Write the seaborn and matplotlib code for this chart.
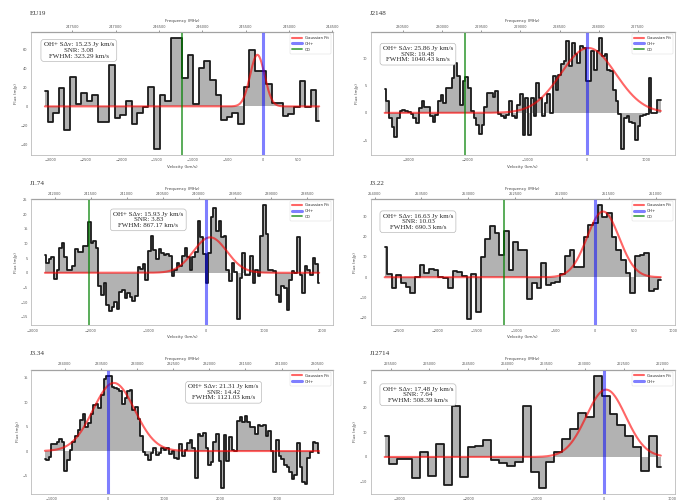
import numpy as np
import matplotlib
matplotlib.use('Agg')
import matplotlib.pyplot as plt
from matplotlib.ticker import MultipleLocator, StrMethodFormatter
import seaborn as sns

sns.set_style("white")
plt.rcParams['font.family'] = ['DejaVu Sans']

C_KMS = 299792.458

# ---- spectra (flux in mJy per channel) ----
titles = ["EU19", "J2148", "J1.74", "J3.22", "J3.34", "J12714"]

flux_1 = [16, -16, -7, 19, -25, 31, 3, 14, 6, 12, -16, -16, 43, -12, -9, 6, -18, -7, -1, 20,
          -45, 12, 6, 72, 72, 30, 54, 2, 40, 48, 28, 12, -14, -11, -7, -18, 20, 59, 37, 37,
          23, 4, 4, -10, -8, -1, 27, -1, 17, -15]
flux_2 = [4.3, 2.1, -0.9, -2.6, -4.5, -1, 0.3, 0.6, 0.4, 0.2,
          -0.3, -0.9, -1.8, 0.9, 2.1, 1, 1, -0.6, -1.6, -0.4,
          2.1, 3.2, 1.8, 4.6, 4.6, 6.4, 9.1, 6.7, 1.4, 5.8,
          6.5, 4.5, 0.3, -1, -2.3, -3.8, -2.3, 1, 3.7, 3.7,
          2.9, 4, -0.3, -0.6, -1, -0.4, 2.1, -0.6, -1, 1.4,
          3.5, -4, 2.7, -4, 2.7, -0.6, 5.5, 2.7, -0.6, 1.8,
          3.5, 0, 6.7, 4.1, 6.9, 9, 9.5, 13.1, 8.5, 12.8,
          10.7, 9.1, 12.2, 11.9, 5.8, 5.8, 11.3, 7.9, 11.4, 13.8,
          10.4, 10.7, 7.9, 7.6, 4.1, 2.1, -0.3, -6.7, -0.9, -0.6,
          -1.6, -1.8, -5, -2.4, -0.6, -0.4, -0.3, 6.3, 0, 0,
          2.4, 2.4]
flux_3 = [6, 3.2, 4.8, 5.5, -2.1, 1.1, 8.6, 10.1, 5.5, 1.1,
          1.1, 2.3, 8, 7.1, 7.1, 9, 9.2, 17.2, 10.3, 10.9,
          8.3, -4.6, -7.5, -3.4, -10.9, -13.2, -11.7, -10.1, -12.4, -6.7,
          -6, -8.6, -6.9, -8.3, -9.8, -8, 2.1, 1.4, 2.9, -2.3,
          7.5, 12.6, 7.8, 4.8, 8, 6.7, 6, 6.3, 5.7, -1.1,
          1.1, 3.4, 2.3, 5.7, 8.3, 5.5, 0.9, 5.5, 7.1, 17.8,
          12.1, 6.3, -3.4, 6.9, 19, 22, 14.4, 17.8, 12.1, 12.6,
          1.1, -2.9, 3.4, 0.2, -15.9, -1.7, 6.9, -0.6, -0.9, 5.7,
          -3.4, 1.1, -1.1, 12.6, 23.2, 13.2, 1.1, 0.9, 0.6, -7.5,
          -10.1, -4.6, -5.2, -12.6, -2.3, 0.6, 0, 12.1, -0.6, -6.9,
          2.3, 1.1, -0.9, 5.2, 2.9, -3.4]
flux_4 = [14.8, 1.6, -5.4, 1.1, -2.6, -4.9, -7.9, 0, 6.1, 2,
          3.9, 3.6, 0, -0.5, -5.4, 3.3, 2.8, 0.7, -20.7, 1.6,
          -16.9, 9.8, 18.7, 25.2, 21.6, 11, 22.5, 3.6, 17.5, 13.4,
          13.4, -10.8, -3, -5.4, 7.2, -3.8, -3, -2.1, 1.6, 10.5,
          13.4, 5.2, 5.2, 20, 25.7, 26.6, 35.6, 29.8, 31.8, 20,
          13.4, 8.5, 2.3, -7.9, 10.5, 11, 12.1, -7, -5.9, -1.3]
flux_5 = [-1.7, -1.9, -1.3, 1.4, 1.5, 1.9, 2.4, 1.9, -4, -1.9,
          0.3, 1.9, 3.1, 4.2, 6.3, 7.6, 4.9, 5.7, 7.6, 9.4,
          9.6, 8.7, 11.5, 14.6, 15.4, 15.3, 13.1, 12.8, 12.6, 12.2,
          9.7, 10.8, 12.2, 12.5, 8.3, 9, 6.6, 3.1, -0.1, -0.8,
          -1.9, -0.3, 0.7, -0.8, -0.3, 0.7, 0.3, 0.6, -0.6, 0,
          -1.5, -1.7, 1.4, -1, 0.3, 1.7, 2.2, 0.7, -5.6, 3.5,
          3.1, 3.6, 0.7, -2.8, -2.2, 1.9, 3.5, -2.1, -7.6, 3.3,
          -2.1, 2.8, 0.3, 0.1, 6.1, 6.9, 5.9, 7.2, 5.9, 4.9,
          4.9, 3.5, 5.4, 5.2, 5.4, 3.1, 4, 0, -4.3, 2.2,
          -1, -1.7, -2.8, -3.3, -4.2, -5.7, -4.9, 1.7, -3.3, -6.3,
          -6.8, -1.5, -0.1, 1.9, 1.7, -0.3]
flux_6 = [8.7, -2.9, -0.7, -0.7, -8.7, 2, -7.7, 5.1, -11.3, 20.7, -8.3, 4, 4.5, 6.7, -1.1,
          -2.4, -3.6, -2, 20.7, -6, -12.7, -2, 2, 7.3, 11.3, 18, 16, 33, 24.7, 17.3,
          13.1, 8.7, 4, -5.6, 8.3, -4]

# first / last channel velocity (km/s)
vel_range = [(-3077, 792), (-3395, 1239), (-2791, 1955), (-2671, 840), (-1127, 3753), (-3224, 829)]

# gaussian fits (amplitude mJy, centre km/s, fwhm km/s)
gauss_amp = [54, 11.9, 12.1, 32.3, 13.9, 27.3]
gauss_cen = [-80, 22, 68, 106, 100, 25]
gauss_fwhm = [240, 1080, 680, 480, 870, 680]

co_vel = [-1140, -2044, -2034, -1153, None, None]

line_flux = [15.23, 25.86, 15.93, 16.63, 21.31, 17.48]
snr = [3.08, 19.48, 3.83, 10.03, 14.42, 7.64]
fwhm_txt = [323.29, 1040.43, 867.17, 690.3, 1121.03, 508.39]

obs_freq = [245300, 228150, 239900, 251650, 233400, 262750]  # MHz
freq_step = 500  # MHz between top-axis ticks

fluxes = [flux_1, flux_2, flux_3, flux_4, flux_5, flux_6]
x_step = [500, 1000, 1000, 500, 1000, 1000]
y_step = [20, 5, 5, 10, 5, 10]
box_pos = [(0.158, 0.85), (0.155, 0.82), (0.388, 0.835), (0.155, 0.82), (0.638, 0.82), (0.155, 0.80)]

# axes rectangles (fig fraction)
rects = [(0.046, 0.6925, 0.445, 0.244), (0.547, 0.6925, 0.448, 0.244),
         (0.046, 0.355, 0.445, 0.25), (0.547, 0.355, 0.448, 0.25),
         (0.046, 0.020, 0.445, 0.246), (0.547, 0.020, 0.448, 0.246)]
title_xy = [(0.044, 0.978), (0.546, 0.978), (0.044, 0.640), (0.546, 0.640), (0.044, 0.303), (0.546, 0.303)]

fig = plt.figure(figsize=(6.78, 5.04), dpi=100)

for i in range(6):
    ax = fig.add_axes(rects[i])
    flux = np.array(fluxes[i], dtype=float)
    vel = np.linspace(vel_range[i][0], vel_range[i][1], len(flux))

    sns.lineplot(x=vel, y=flux, ax=ax, drawstyle='steps-mid', color='#1a1a1a', lw=1.3,
                 estimator=None, sort=False)
    ax.fill_between(vel, flux, 0, step='mid', color='gray', alpha=0.6, lw=0)

    vf = np.linspace(vel.min(), vel.max(), 600)
    sig = gauss_fwhm[i] / 2.3548
    ax.plot(vf, gauss_amp[i] * np.exp(-0.5 * ((vf - gauss_cen[i]) / sig) ** 2),
            color='red', alpha=0.6, lw=1.5, label='Gaussian Fit')
    ax.axvline(0, color='blue', alpha=0.5, lw=2.2, label='OH+')
    if co_vel[i] is not None:
        ax.axvline(co_vel[i], color='green', alpha=0.7, lw=1.3, label='CO')

    ax.xaxis.set_major_locator(MultipleLocator(x_step[i]))
    ax.yaxis.set_major_locator(MultipleLocator(y_step[i]))
    ax.tick_params(labelsize=2.5, length=1.5, width=0.4, pad=1, colors='#555555')
    for s in ax.spines.values():
        s.set_color('#bbbbbb')
        s.set_linewidth(0.6)
    # bottom row velocity label falls outside the canvas in the reference
    if i < 4:
        ax.set_xlabel('Velocity (km/s)', fontsize=3, color='#444444', labelpad=1.5)
    ax.set_ylabel('Flux (mJy)', fontsize=3, color='#444444', labelpad=2)

    f0 = obs_freq[i]
    v2f = lambda v, f0=f0: f0 * (1 - np.asarray(v) / C_KMS)
    f2v = lambda f, f0=f0: C_KMS * (1 - np.asarray(f) / f0)
    top = ax.secondary_xaxis('top', functions=(v2f, f2v))
    f_lo, f_hi = sorted(float(v2f(v)) for v in ax.get_xlim())
    top.set_ticks(np.arange(np.ceil(f_lo / freq_step) * freq_step, f_hi, freq_step))
    top.xaxis.set_major_formatter(StrMethodFormatter('{x:.0f}'))
    top.tick_params(labelsize=2.5, length=1.5, width=0.4, pad=1, colors='#555555')
    top.set_xlabel('Frequency (MHz)', fontsize=3, color='#444444', labelpad=1.5)

    leg = ax.legend(loc='upper right', fontsize=2.8, frameon=True, handlelength=2.5,
                    borderpad=0.5, labelspacing=0.5)
    leg.get_frame().set_linewidth(0.3)

    txt = (f"OH+ S\u0394v: {line_flux[i]:.2f} Jy km/s\nSNR: {snr[i]:.2f}\n"
           f"FWHM: {fwhm_txt[i]} km/s")
    ax.text(box_pos[i][0], box_pos[i][1], txt, transform=ax.transAxes, ha='center', va='center',
            fontsize=5, family='Liberation Serif', linespacing=1.15,
            bbox=dict(boxstyle='round,pad=0.4', facecolor='white', edgecolor='#aaaaaa', lw=0.4))

    fig.text(title_xy[i][0], title_xy[i][1], titles[i], fontsize=5, family='Liberation Serif',
             ha='left', va='top', color='#333333')

fig.savefig('out.png', dpi=100)
